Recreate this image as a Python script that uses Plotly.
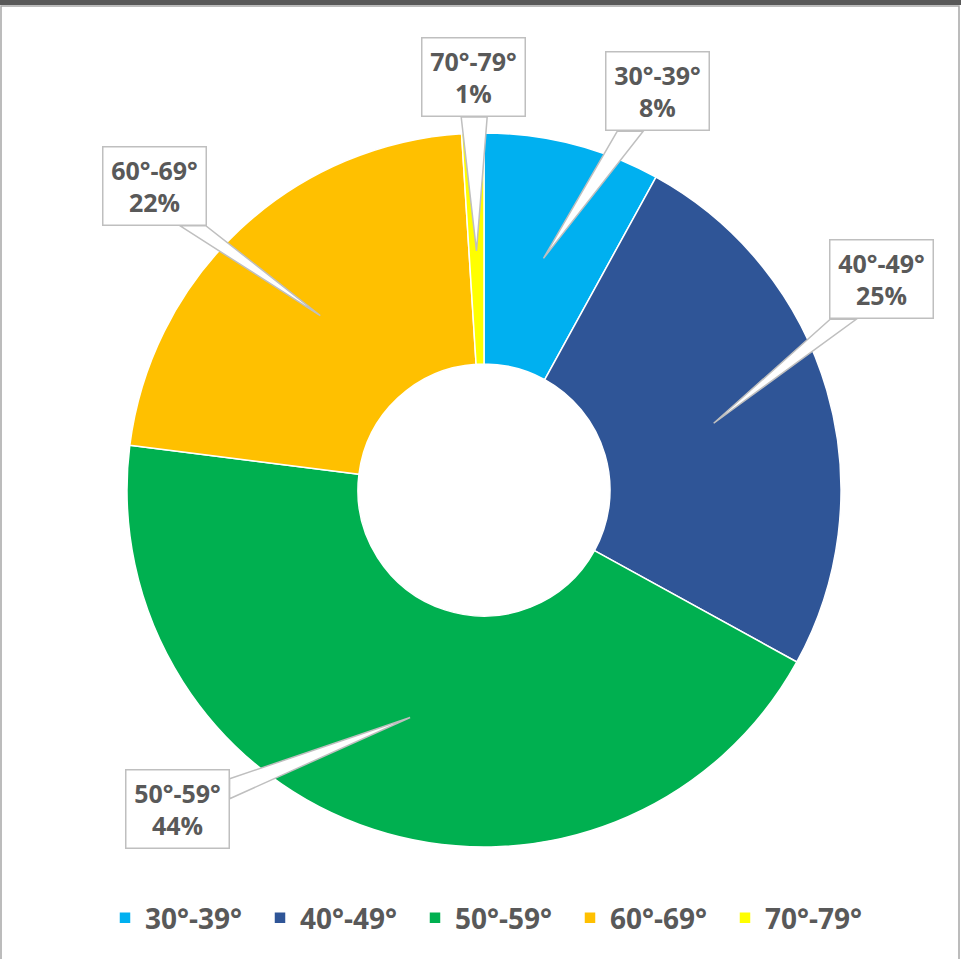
import math
import plotly.graph_objects as go

# ---- data ----
categories = ["30°-39°", "40°-49°", "50°-59°", "60°-69°", "70°-79°"]
values = [8, 25, 44, 22, 1]
colors = ["#00B0F0", "#2F5597", "#00B050", "#FFC000", "#FFFF00"]

# label box offsets (pixels, relative to the callout tip)
offsets = [(114, -167), (168, -144), (-233, 92), (-166, -130), (-3, -174)]

W, H = 961, 959
cx, cy, R = 484, 490, 357  # pie centre / radius in pixels
BW, BH = 105, 80           # callout box size in pixels


def to_paper(px, py):
    return px / W, 1 - py / H


fig = go.Figure()
fig.add_trace(go.Pie(
    labels=categories, values=values, sort=False, direction="clockwise",
    rotation=0, hole=0.353,
    marker=dict(colors=colors, line=dict(color="white", width=1.5)),
    textinfo="none", hoverinfo="label+percent",
    domain=dict(x=[(cx - R) / W, (cx + R) / W], y=[(H - cy - R) / H, (H - cy + R) / H]),
))

total = sum(values)
cum = 0
annotations = []
shapes = [
    dict(type="rect", xref="paper", yref="paper", x0=0, x1=1, y0=1 - 5 / H, y1=1,
         fillcolor="#595959", line=dict(width=0), layer="above"),
    dict(type="rect", xref="paper", yref="paper", x0=1 / W, x1=1 - 2 / W, y0=-0.01, y1=1 - 6 / H,
         fillcolor="rgba(0,0,0,0)", line=dict(color="#A6A6A6", width=1.5), layer="above"),
]
for cat, v, (ox, oy) in zip(categories, values, offsets):
    mid = (cum + v / 2) / total * 360
    cum += v
    r = 0.67 * R
    tx = cx + r * math.sin(math.radians(mid))
    ty = cy - r * math.cos(math.radians(mid))
    bx, by = tx + ox, ty + oy
    dx, dy = tx - bx, ty - by
    t_x = (BW / 2) / abs(dx) if dx else 1e9
    t_y = (BH / 2) / abs(dy) if dy else 1e9
    if t_y <= t_x:
        ex, ey = bx + dx * t_y, by + dy * t_y
        ex = min(max(ex, bx - BW / 2 + 14), bx + BW / 2 - 14)
        b1, b2 = (ex - 13, ey), (ex + 13, ey)
    else:
        ex, ey = bx + dx * t_x, by + dy * t_x
        ey = min(max(ey, by - BH / 2 + 12), by + BH / 2 - 12)
        b1, b2 = (ex, ey - 10), (ex, ey + 10)
    p1, pt, p2 = to_paper(*b1), to_paper(tx, ty), to_paper(*b2)
    shapes.append(dict(
        type="path", xref="paper", yref="paper", layer="above",
        path=f"M {p1[0]},{p1[1]} L {pt[0]},{pt[1]} L {p2[0]},{p2[1]} Z",
        fillcolor="white", line=dict(color="#BFBFBF", width=1.5),
    ))
    pct = round(v / total * 100)
    bpx, bpy = to_paper(bx, by)
    annotations.append(dict(
        x=bpx, y=bpy, xref="paper", yref="paper", xanchor="center", yanchor="middle",
        text=f"{cat}<br>{pct}%", showarrow=False,
        font=dict(family="Open Sans", size=25, color="#595959", weight="bold"),
        bgcolor="white", bordercolor="#BFBFBF", borderwidth=1.5, borderpad=0,
        width=BW - 3, height=BH - 3, align="center", valign="middle",
    ))

fig.update_layout(
    width=W, height=H, margin=dict(l=0, r=0, t=0, b=0),
    paper_bgcolor="white", plot_bgcolor="white",
    annotations=annotations, shapes=shapes,
    showlegend=True,
    legend=dict(orientation="h", x=0.5 + 12 / W, xanchor="center", y=(H - 918) / H, yanchor="middle",
                font=dict(family="Open Sans", size=28, color="#595959", weight="bold"),
                itemwidth=30, traceorder="normal", entrywidth=110, entrywidthmode="pixels"),
)

fig.write_html("out.html", config={"displayModeBar": False},
               post_script="document.body.style.margin='0';document.body.style.overflow='hidden';")
